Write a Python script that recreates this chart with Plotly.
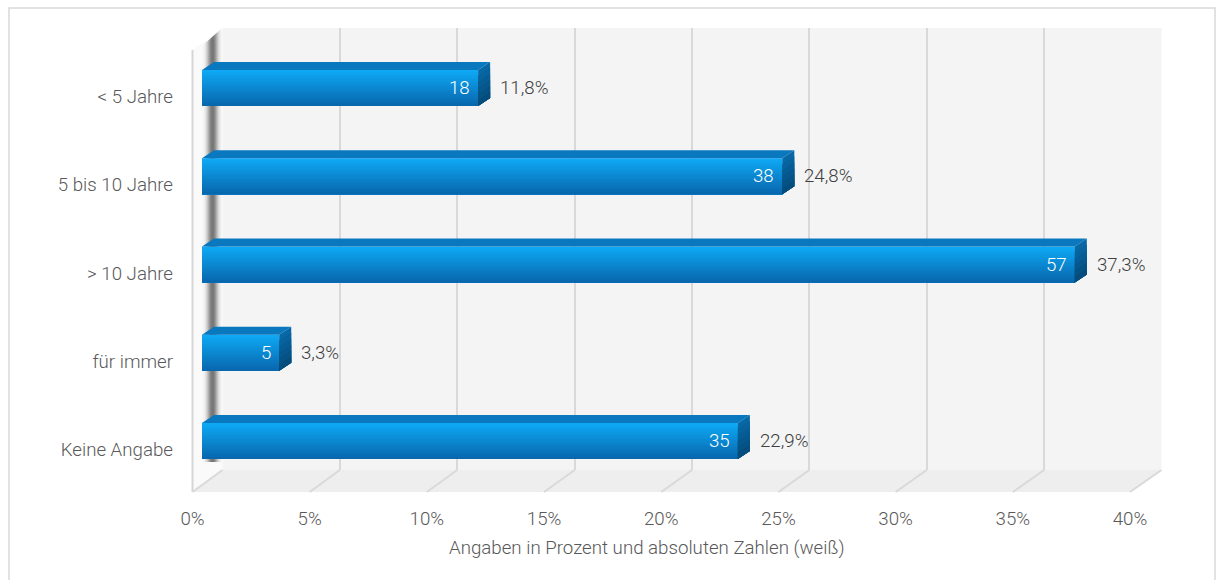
import math
import plotly.graph_objects as go

W, H = 1219, 580

# ---------------- data ----------------
categories = ["< 5 Jahre", "5 bis 10 Jahre", "> 10 Jahre", "für immer", "Keine Angabe"]
counts = [18, 38, 57, 5, 35]
percents = [11.8, 24.8, 37.3, 3.3, 22.9]
tick_values = [0, 5, 10, 15, 20, 25, 30, 35, 40]
tick_labels = ["0%", "5%", "10%", "15%", "20%", "25%", "30%", "35%", "40%"]
axis_title = "Angaben in Prozent und absoluten Zahlen (weiß)"

# ---------------- geometry (pixels) ----------------
def px(x):
    return x / W

def py(y):
    return 1 - y / H

XMAX = 40
BAR_X0, BAR_X1 = 202, 1138          # bar (middle) plane
WALL_X0, WALL_X1 = 222.5, 1161.5    # back wall plane
FRONT_X0, FRONT_X1 = 192.5, 1130    # front floor plane (tick labels)
WALL_TOP, WALL_BOT = 28, 470
FLOOR_FRONT = 492
SLOT_TOP, SLOT_BOT = 43.9, 485.1
LABEL_SHIFT = 8.5
SLOT_PX = (SLOT_BOT - SLOT_TOP) / len(categories)

BW = 36 / SLOT_PX                   # bar thickness in category units
DEPTH_X, DEPTH_Y = 12, 8            # 3D depth in pixels
dxd = DEPTH_X / ((BAR_X1 - BAR_X0) / XMAX)
dyd = DEPTH_Y / SLOT_PX

FONT = "Roboto Light, Roboto, sans-serif"
FS = 18.7
idx = list(range(len(categories)))

def lerp(c1, c2, t):
    return "rgb(%d,%d,%d)" % tuple(round(a + (b - a) * t) for a, b in zip(c1, c2))

fig = go.Figure()

# subplot 1: back wall grid
fig.add_trace(go.Scatter(x=[0], y=[0], mode="markers", marker=dict(opacity=0),
                         hoverinfo="skip", showlegend=False, xaxis="x", yaxis="y"))
# subplot 2: front labels
fig.add_trace(go.Scatter(x=[0] * len(idx), y=idx, mode="markers", marker=dict(opacity=0),
                         hoverinfo="skip", showlegend=False, xaxis="x2", yaxis="y2"))

# subplot 3: bars - front face gradient (each layer covers from its start to the bottom)
N = 16
top_c, bot_c = (14, 168, 244), (8, 104, 174)
for k in range(N):
    start = k * BW / N
    fig.add_trace(go.Bar(
        x=percents, y=idx, orientation="h",
        width=BW - start, offset=-BW / 2 + start,
        marker=dict(color=lerp(top_c, bot_c, k / (N - 1)), line=dict(width=0)),
        hoverinfo="skip", showlegend=False, xaxis="x3", yaxis="y3"))

# top faces
tx, ty = [], []
for i, v in zip(idx, percents):
    yt = i - BW / 2
    tx += [0, v, v + dxd, dxd, 0, None]
    ty += [yt, yt, yt - dyd, yt - dyd, yt, None]
fig.add_trace(go.Scatter(x=tx, y=ty, fill="toself", fillcolor="rgb(10,120,190)",
                         mode="lines", line=dict(width=0), hoverinfo="skip",
                         showlegend=False, xaxis="x3", yaxis="y3"))

# right faces (gradient, layered)
M = 6
r_top, r_bot = (8, 104, 166), (4, 76, 124)
for k in range(M):
    a = k / M
    rx, ry = [], []
    for i, v in zip(idx, percents):
        y0 = i - BW / 2 + a * BW
        y1 = i + BW / 2
        rx += [v, v + dxd, v + dxd, v, v, None]
        ry += [y0, y0 - dyd, y1 - dyd, y1, y0, None]
    fig.add_trace(go.Scatter(x=rx, y=ry, fill="toself",
                             fillcolor=lerp(r_top, r_bot, k / (M - 1)),
                             mode="lines", line=dict(width=0), hoverinfo="skip",
                             showlegend=False, xaxis="x3", yaxis="y3"))

# ---------------- decorative shapes ----------------
shapes = []
shapes.append(dict(type="rect", xref="paper", yref="paper", layer="below",
                   x0=px(9), x1=px(1215), y0=py(600), y1=py(8),
                   line=dict(color="#d9d9d9", width=1.5), fillcolor="rgba(0,0,0,0)"))
shapes.append(dict(type="rect", xref="paper", yref="paper", layer="below",
                   x0=px(WALL_X0), x1=px(WALL_X1), y0=py(WALL_BOT), y1=py(WALL_TOP),
                   line=dict(width=0), fillcolor="#f4f4f4"))

def path(pts):
    return "M " + " L ".join("%f,%f" % (px(x), py(y)) for x, y in pts) + " Z"

shapes.append(dict(type="path", xref="paper", yref="paper", layer="below",
                   path=path([(WALL_X0, WALL_BOT), (WALL_X1, WALL_BOT),
                              (FRONT_X1, FLOOR_FRONT), (FRONT_X0, FLOOR_FRONT)]),
                   line=dict(width=0), fillcolor="#eeeeee"))
shapes.append(dict(type="path", xref="paper", yref="paper", layer="below",
                   path=path([(FRONT_X0, 50), (WALL_X0, WALL_TOP),
                              (WALL_X0, WALL_BOT), (FRONT_X0, FLOOR_FRONT)]),
                   line=dict(width=0), fillcolor="#fafafa"))
shapes.append(dict(type="line", xref="paper", yref="paper", layer="below",
                   x0=px(FRONT_X0), x1=px(FRONT_X0), y0=py(FLOOR_FRONT), y1=py(50),
                   line=dict(color="#d6d6d6", width=2)))
# soft shadow on the left wall
for k in range(40):
    xp = 202 + k * 0.5
    op = 0.62 * math.exp(-((xp + 0.25 - 212.5) / 5.0) ** 2)
    top = 45 - (xp - 203) * (17 / 19)
    shapes.append(dict(type="rect", xref="paper", yref="paper", layer="below",
                       x0=px(xp), x1=px(xp + 0.5), y0=py(462), y1=py(top),
                       line=dict(width=0), fillcolor="rgba(0,0,0,%.3f)" % op))
for t in tick_values:
    xb = WALL_X0 + (WALL_X1 - WALL_X0) * t / XMAX
    xf = FRONT_X0 + (FRONT_X1 - FRONT_X0) * t / XMAX
    shapes.append(dict(type="line", xref="paper", yref="paper", layer="below",
                       x0=px(xb), y0=py(WALL_BOT), x1=px(xf), y1=py(FLOOR_FRONT),
                       line=dict(color="#d9d9d9", width=2)))

# ---------------- annotations ----------------
ann = []
for i, v, c, p in zip(idx, percents, counts, percents):
    ann.append(dict(x=v, y=i, xref="x3", yref="y3", text=str(c), showarrow=False,
                    xanchor="right", yanchor="middle", xshift=-6,
                    font=dict(family=FONT, size=FS, color="white", weight=300)))
    ann.append(dict(x=v, y=i, xref="x3", yref="y3",
                    text=("%.1f" % p).replace(".", ",") + "%", showarrow=False,
                    xanchor="left", yanchor="middle", xshift=20,
                    font=dict(family=FONT, size=FS, color="#404040", weight=300)))
ann.append(dict(x=px(647), y=py(548), xref="paper", yref="paper", text=axis_title,
                showarrow=False, xanchor="center", yanchor="middle",
                font=dict(family=FONT, size=FS, color="#595959", weight=300)))

tickfont = dict(family=FONT, size=FS, color="#595959", weight=300)
hidden = dict(showgrid=False, zeroline=False, showticklabels=False, ticks="",
              showline=False, fixedrange=True, automargin=False)

fig.update_layout(
    width=W, height=H, autosize=False, margin=dict(l=0, r=0, t=0, b=0, pad=0),
    paper_bgcolor="white", plot_bgcolor="rgba(0,0,0,0)",
    barmode="overlay", showlegend=False,
    xaxis=dict(domain=[px(WALL_X0), px(WALL_X1)], range=[0, XMAX], tickvals=tick_values,
               showgrid=True, gridcolor="#d9d9d9", gridwidth=2, zeroline=False,
               showticklabels=False, ticks="", showline=False, fixedrange=True,
               anchor="y", automargin=False),
    yaxis=dict(domain=[py(WALL_BOT), py(WALL_TOP)], range=[0, 1], anchor="x", **hidden),
    xaxis2=dict(domain=[px(FRONT_X0), px(FRONT_X1)], range=[0, XMAX], tickvals=tick_values,
                ticktext=tick_labels, showgrid=False, zeroline=False, ticks="",
                showline=False, fixedrange=True, anchor="free", position=py(505),
                tickfont=tickfont, automargin=False),
    yaxis2=dict(domain=[py(SLOT_BOT + LABEL_SHIFT), py(SLOT_TOP + LABEL_SHIFT)],
                range=[len(categories) - 0.5, -0.5], tickvals=idx, ticktext=categories,
                showgrid=False, zeroline=False, ticks="", showline=False, fixedrange=True,
                anchor="free", position=px(173), tickfont=tickfont, automargin=False),
    xaxis3=dict(domain=[px(BAR_X0), px(BAR_X1)], range=[0, XMAX], anchor="y3", **hidden),
    yaxis3=dict(domain=[py(SLOT_BOT), py(SLOT_TOP)], range=[len(categories) - 0.5, -0.5],
                anchor="x3", **hidden),
    shapes=shapes, annotations=ann,
)

fig.write_html("out.html")
